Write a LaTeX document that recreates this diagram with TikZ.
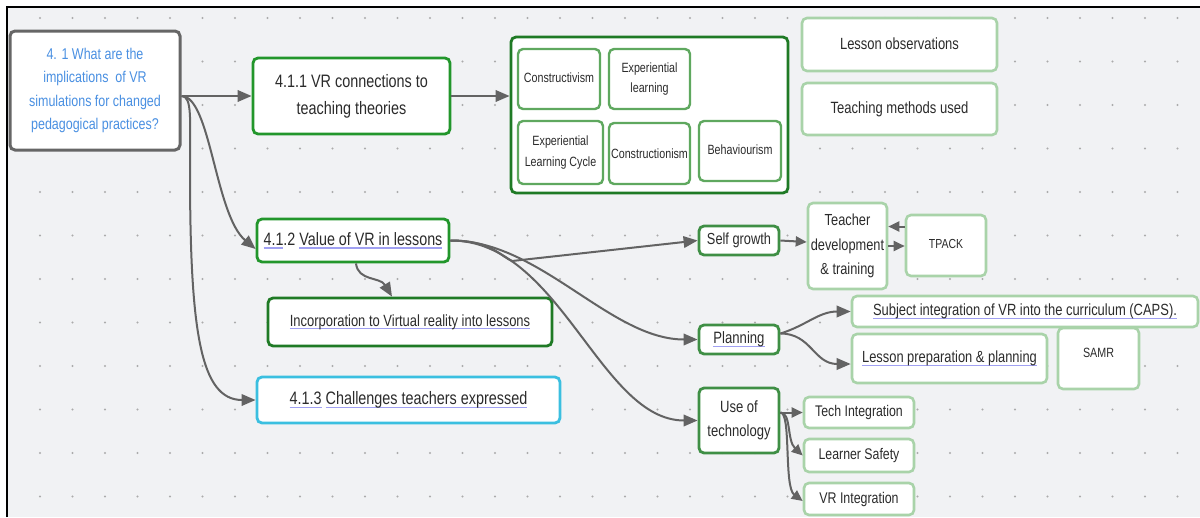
\documentclass[tikz,border=0pt]{standalone}
\usepackage{fontspec}
\setmainfont{Liberation Sans}[FakeStretch=0.8]
\usetikzlibrary{arrows.meta}
\definecolor{bg}{HTML}{F1F2F4}
\definecolor{dotc}{HTML}{ABABAB}
\definecolor{txt}{HTML}{2B2B2B}
\definecolor{qblue}{HTML}{4A90E2}
\definecolor{qgray}{HTML}{666666}
\definecolor{gbright}{HTML}{22962B}
\definecolor{gdark}{HTML}{1F7A25}
\definecolor{gmid}{HTML}{3F8F45}
\definecolor{gsoft}{HTML}{5FA85F}
\definecolor{gpale}{HTML}{A9D3A9}
\definecolor{cyanb}{HTML}{3BBFE0}
\definecolor{arr}{HTML}{636363}
\definecolor{ulc}{HTML}{A0A0F2}
\newcommand\fsz[2]{\fontsize{#1}{#2}\selectfont}
\newsavebox\ulbox
\newcommand\pul[1]{\sbox\ulbox{#1}\rlap{\color{ulc}\rule[-3.2pt]{\wd\ulbox}{1.2pt}}\usebox\ulbox}
\tikzset{
  box/.style={draw, rounded corners=5pt, fill=white, align=center, text=txt, inner sep=0pt},
  qbox/.style={box, draw=qgray, line width=3pt, text=qblue},
  brightbox/.style={box, draw=gbright, line width=2.8pt},
  darkbox/.style={box, draw=gdark, line width=2.8pt},
  midbox/.style={box, draw=gmid, line width=2.8pt},
  softbox/.style={box, draw=gsoft, line width=2.4pt},
  palebox/.style={box, draw=gpale, line width=2.6pt},
  cyanbox/.style={box, draw=cyanb, line width=2.8pt},
  conn/.style={draw=arr, line width=2pt, -{Triangle[length=14pt,width=11.5pt]}},
  sconn/.style={draw=arr, line width=2pt, -{Triangle[length=11pt,width=10pt]}}
}
\begin{document}
\begin{tikzpicture}[x=1pt,y=-1pt]
\useasboundingbox (0,0) rectangle (1200,517);
\fill[white] (0,0) rectangle (1200,517);
\fill[bg] (7,7) rectangle (1200,517);
\foreach \i in {0,...,35} \foreach \j in {0,...,11} \fill[dotc] (40+32.5*\i, 18+43.5*\j) circle[radius=1.1pt];
\draw[black, line width=2.5pt] (7,517) -- (7,7) -- (1200,7);

% nodes
\node[qbox, minimum width=170pt, minimum height=119pt, font=\fsz{15.6}{23.3}] (q) at (95,90.5)
  {4. 1 What are the\\implications \ of VR\\simulations for changed\\pedagogical practices?};
\node[brightbox, minimum width=197pt, minimum height=76pt, font=\fsz{18}{27}] (n411) at (351.5,96)
  {4.1.1 VR connections to\\teaching theories};
\node[darkbox, minimum width=277pt, minimum height=156pt] (grp) at (649.5,115) {};
\node[softbox, minimum width=82pt, minimum height=60pt, font=\fsz{13.4}{20}] (t1) at (559,79) {\raisebox{3pt}{Constructivism}};
\node[softbox, minimum width=81pt, minimum height=60pt, font=\fsz{13.4}{20}] (t2) at (649.5,79) {Experiential\\learning};
\node[softbox, minimum width=85pt, minimum height=63pt, font=\fsz{13.4}{21}] (t3) at (560.5,152.5) {Experiential\\Learning Cycle};
\node[softbox, minimum width=81pt, minimum height=61pt, font=\fsz{13.4}{20}] (t4) at (649.5,153.5) {Constructionism};
\node[softbox, minimum width=82pt, minimum height=60pt, font=\fsz{13.4}{20}] (t5) at (740,151) {\raisebox{3pt}{Behaviourism}};
\node[palebox, minimum width=195pt, minimum height=53pt, font=\fsz{16.2}{24}] (lo) at (899.5,44.5) {\raisebox{2.5pt}{Lesson observations}};
\node[palebox, minimum width=195pt, minimum height=52pt, font=\fsz{16.3}{24}] (tm) at (899.5,109) {\raisebox{3pt}{Teaching methods used}};

\node[brightbox, minimum width=192pt, minimum height=43pt, font=\fsz{17.9}{27}] (n412) at (353,240.5)
  {\pul{4.1}.2 \pul{Value of VR in lessons}};
\node[darkbox, minimum width=284pt, minimum height=48pt, font=\fsz{16.2}{24}] (inc) at (410,322)
  {\pul{Incorporation to Virtual reality into lessons}};
\node[cyanbox, minimum width=303pt, minimum height=46pt, font=\fsz{18}{27}] (n413) at (408.5,400)
  {\pul{4.1.3} \pul{Challenges teachers expressed}};

\node[midbox, minimum width=80pt, minimum height=29pt, font=\fsz{16}{24}] (sg) at (739,240.5) {Self growth};
\node[palebox, minimum width=79pt, minimum height=86pt, font=\fsz{16}{24.5}] (td) at (847.5,246) {Teacher\\development\\\& training};
\node[palebox, minimum width=80pt, minimum height=61pt, font=\fsz{13.1}{20}] (tp) at (946,245.5) {\raisebox{3.5pt}{TPACK}};
\node[midbox, minimum width=80pt, minimum height=29pt, font=\fsz{16.4}{24}] (pl) at (739,339.5) {\pul{Planning}};
\node[palebox, minimum width=346pt, minimum height=31pt, font=\fsz{16.2}{24}] (si) at (1025,311.5)
  {\pul{Subject integration of VR into the curriculum (CAPS).}};
\node[palebox, minimum width=195pt, minimum height=49pt, font=\fsz{16.1}{24}] (lp) at (949.5,358.5)
  {\pul{Lesson preparation \& planning}};
\node[palebox, minimum width=81pt, minimum height=61pt, font=\fsz{13.4}{20}] (samr) at (1098.5,358.5) {\raisebox{11pt}{SAMR}};
\node[midbox, minimum width=80pt, minimum height=65pt, font=\fsz{16.3}{24}] (ut) at (739,420.5) {Use of\\technology};
\node[palebox, minimum width=110pt, minimum height=31pt, font=\fsz{15.4}{23}] (ti) at (859,412.5) {Tech Integration};
\node[palebox, minimum width=110pt, minimum height=33pt, font=\fsz{15.4}{23}] (ls) at (859,455.5) {Learner Safety};
\node[palebox, minimum width=110pt, minimum height=32pt, font=\fsz{15.5}{23}] (vi) at (859,499) {VR Integration};

% connectors
\coordinate (qo) at (q.east |- n411.west);
\draw[conn] (qo) -- (n411.west);
\draw[conn] (n411.east) -- (n411.east -| grp.west);
\draw[conn] (qo) .. controls +(29,0) and (215,215) .. ([yshift=-8.5pt]n412.west);
\coordinate (qd) at (190,170);
\draw[conn] (qo) .. controls +(11,0) and (190,120) .. (qd) .. controls (190,330) and (200,400) .. (n413.west);
\draw[conn] ([xshift=3pt]n412.south) .. controls +(2,18) and +(-12,-20) .. ([xshift=-18pt]inc.north);

\coordinate (jn) at (512,261);
\draw[conn] (n412.east) .. controls +(41,0) and +(-12,-5) .. (jn) -- (sg.west);
\draw[conn] (n412.east) .. controls (540,240) and (610,339.5) .. (pl.west);
\draw[conn] (n412.east) .. controls (560,240) and (600,420.5) .. (ut.west);

\draw[sconn] (sg.east) -- ([yshift=4pt]td.west);
\draw[sconn] (td.east) -- (td.east -| tp.west);
\draw[sconn] ([yshift=19pt]tp.west) -- ([yshift=19pt]tp.west -| td.east);

\coordinate (po) at ([yshift=6pt]pl.east);
\draw[conn] (po) .. controls +(26,-8) and +(-32,0) .. (si.west);
\draw[conn] (po) .. controls +(31,0) and +(-37,0) .. ([yshift=-5.5pt]lp.west);

\coordinate (uo) at ([yshift=8pt]ut.east);
\draw[sconn] (uo) -- (ti.west);
\draw[sconn] (uo) .. controls +(11,0) and +(-16,-15) .. (ls.west);
\draw[sconn] (uo) .. controls +(11,0) and +(-19,-14) .. ([yshift=-2pt]vi.west);
\end{tikzpicture}
\end{document}
